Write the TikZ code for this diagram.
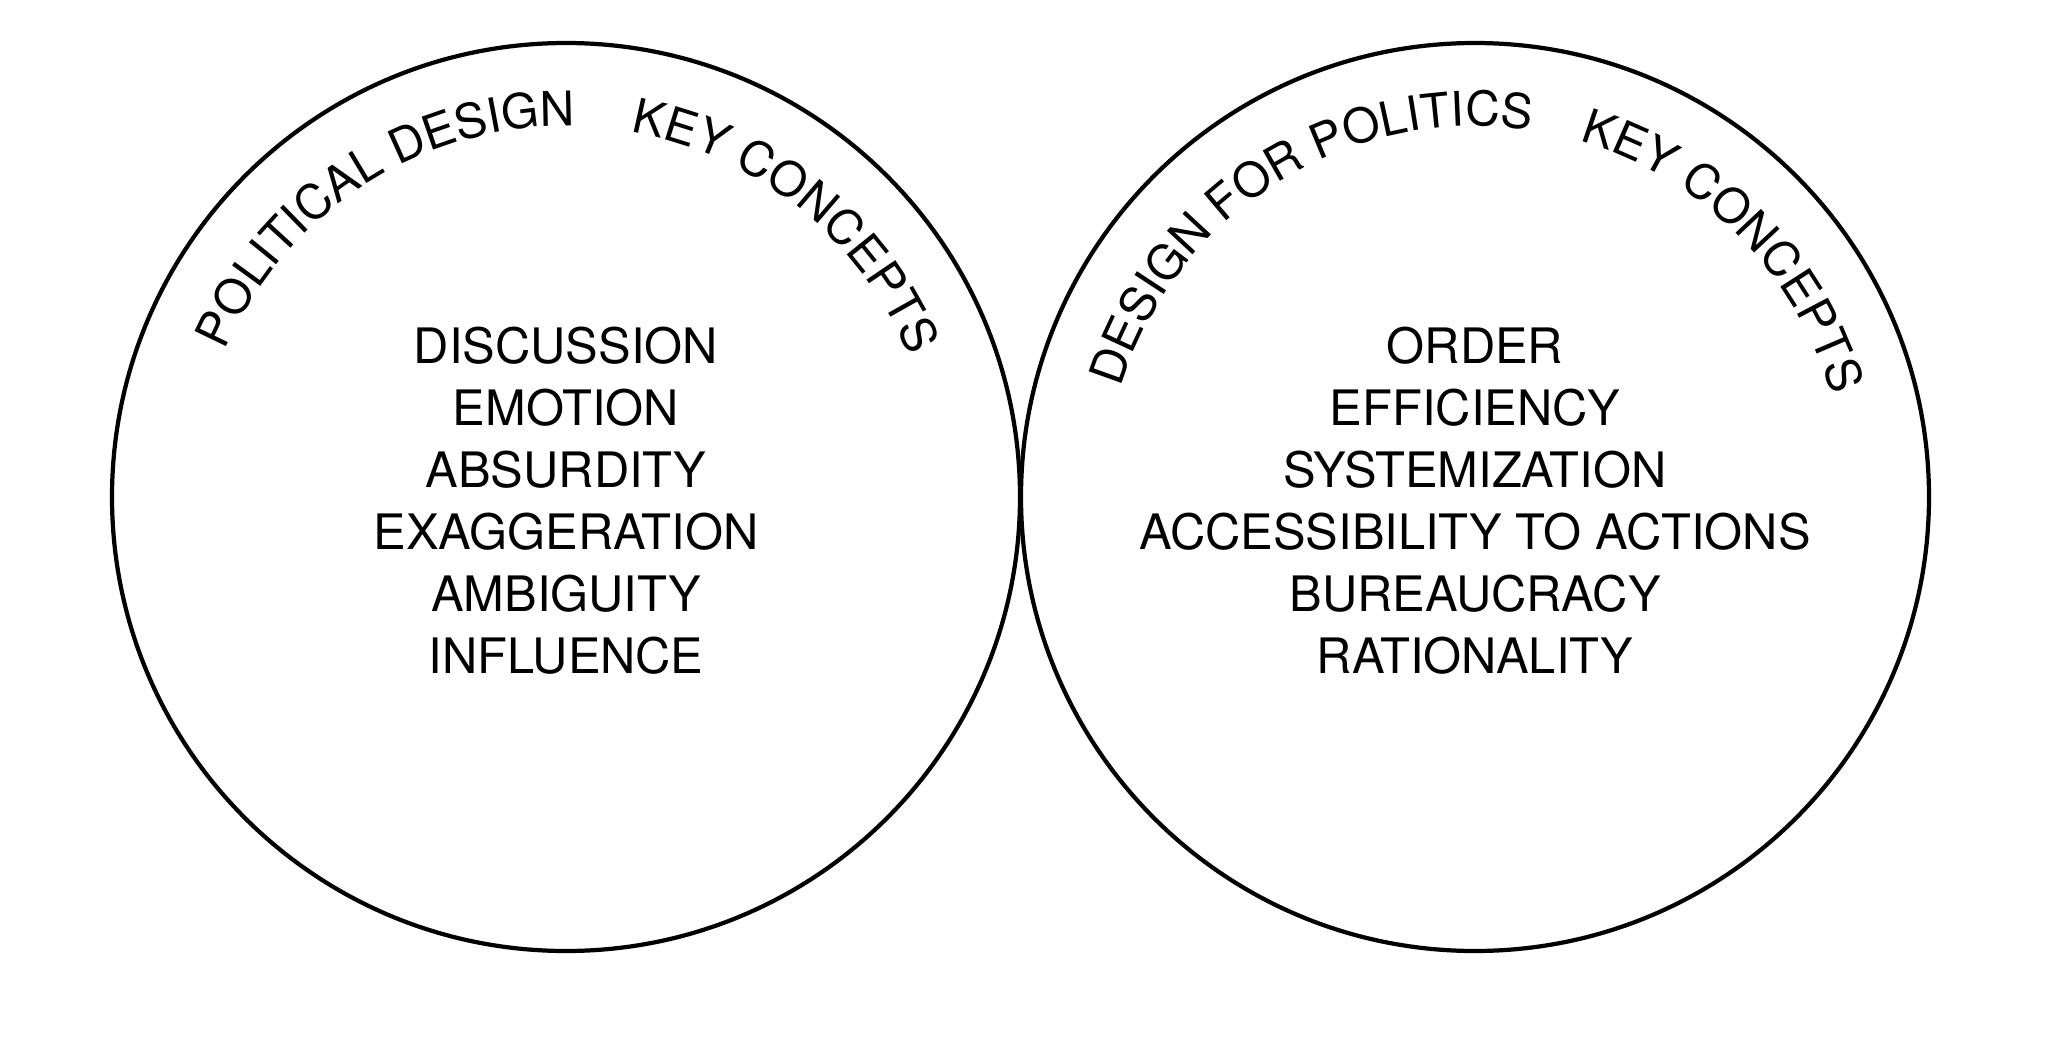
\documentclass[tikz,border=0pt]{standalone}
\usepackage{fontspec}
\setmainfont{TeX Gyre Heros}
\usetikzlibrary{decorations.text}
\tikzset{%
	ring/.style    = {draw, circle, line width=1.2pt, minimum size=9.08cm, inner sep=0pt}, % Outline
	item/.style    = {font=\fontsize{13.9}{16}\selectfont, anchor=base, inner sep=0pt}, % Concept
	arctext/.style = {decorate, decoration={text along path, text={|\fontsize{13.6}{16}\selectfont|#1}}}, % Title on arc
}

\begin{document}
\begin{tikzpicture}
	\useasboundingbox (0,0) rectangle (20.48,10.58);
	\node[ring] (pd) at (5.66,5.61) {};
	\node[ring] (dp) at (14.75,5.61) {};
	% titles
	\path[arctext={POLITICAL DESIGN}] (pd.center) ++(156.7:3.71) arc[start angle=156.7, end angle=60, radius=3.71];
	\path[arctext={KEY CONCEPTS}] (pd.center) ++(80:3.71) arc[start angle=80, end angle=0, radius=3.71];
	\path[arctext={DESIGN FOR POLITICS}] (dp.center) ++(162.9:3.71) arc[start angle=162.9, end angle=60, radius=3.71];
	\path[arctext={KEY CONCEPTS}] (dp.center) ++(73.7:3.71) arc[start angle=73.7, end angle=-10, radius=3.71];
	% concepts
	\foreach \w [count=\i] in {DISCUSSION,EMOTION,ABSURDITY,EXAGGERATION,AMBIGUITY,INFLUENCE}
		\node[item] (pd\i) at (5.66,7.57-0.62*\i) {\w};
	\foreach \w [count=\i] in {ORDER,EFFICIENCY,SYSTEMIZATION,ACCESSIBILITY TO ACTIONS,BUREAUCRACY,RATIONALITY}
		\node[item] (dp\i) at (14.75,7.57-0.62*\i) {\w};
\end{tikzpicture}
\end{document}
